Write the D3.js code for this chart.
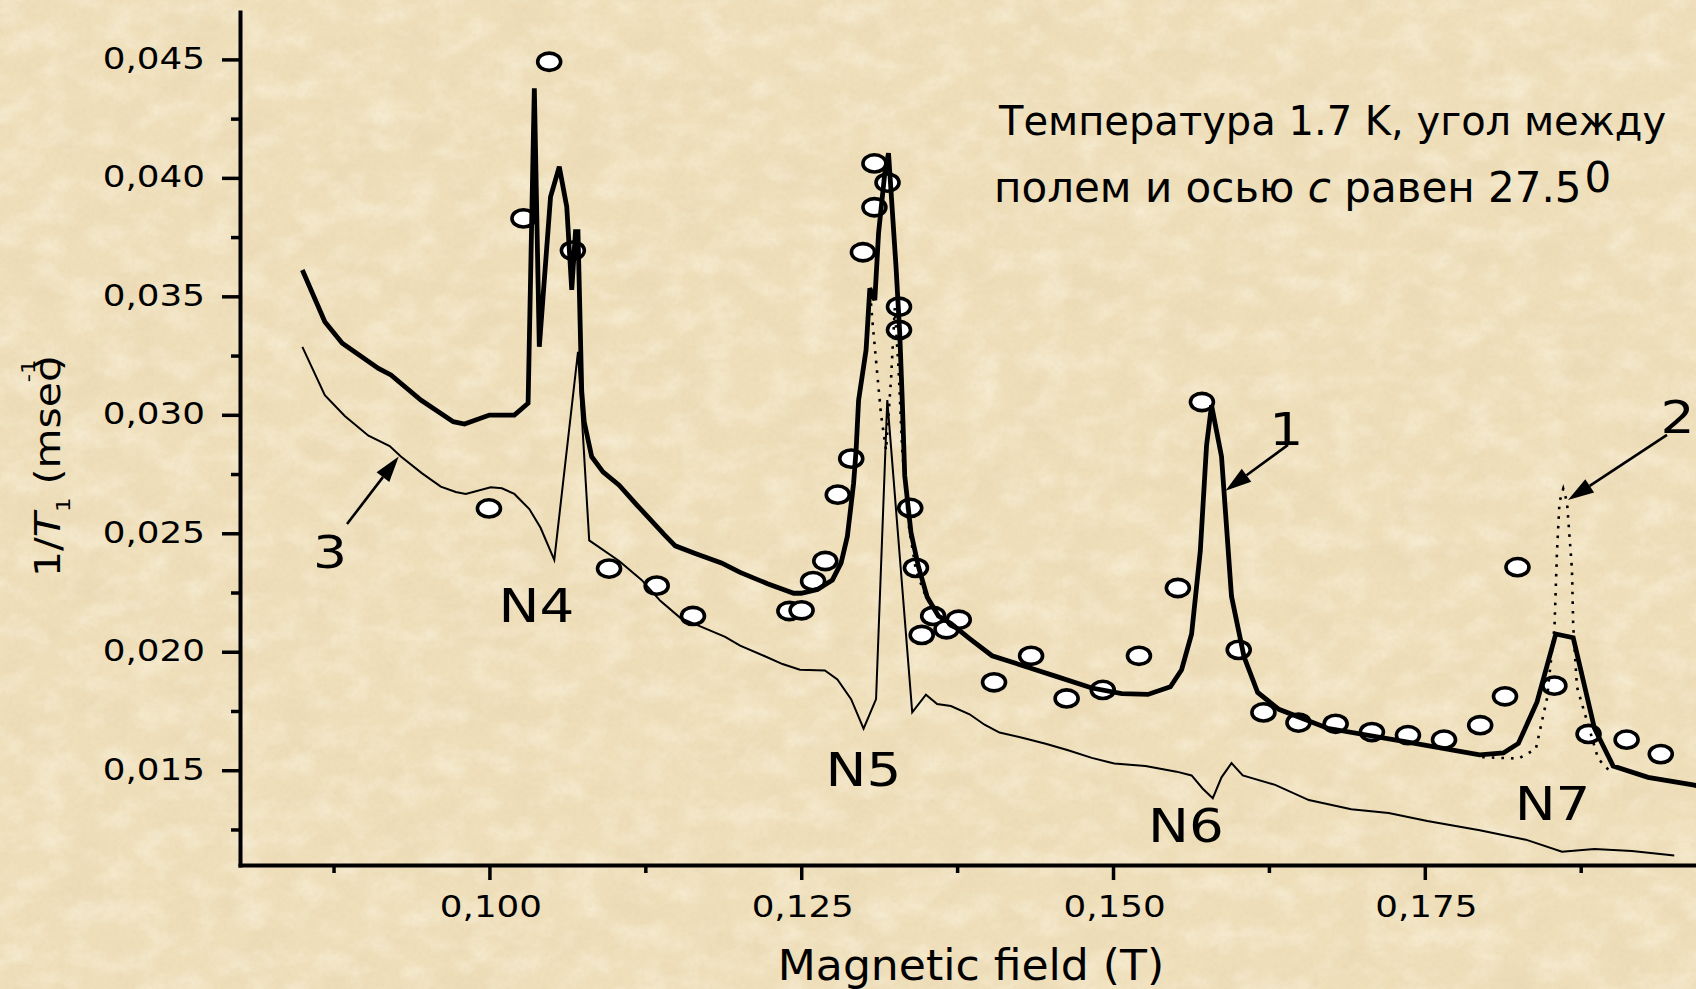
<!DOCTYPE html>
<html>
<head>
<meta charset="utf-8">
<script src="https://cdn.jsdelivr.net/npm/d3@7"></script>
<style>
  html, body { margin: 0; padding: 0; background: #EFDFBA; overflow: hidden; }
  svg { display: block; }
</style>
</head>
<body>
<svg id="chart" width="1696" height="989"></svg>
<script>
// ---- data: magnetic field (T) vs relaxation rate 1/T1 (msec^-1) ----

// curve 1: calculated, thick solid line
const curve1 = [
  [0.0850,0.03611],[0.0868,0.03393],[0.0882,0.03302],[0.0911,0.03196],[0.0921,0.03168],
  [0.0945,0.03062],[0.0971,0.02971],[0.0980,0.02961],[0.1000,0.02999],[0.1020,0.02999],
  [0.1031,0.03049],[0.1036,0.04378],[0.1040,0.03287],[0.1049,0.03920],[0.1056,0.04047],
  [0.1062,0.03878],[0.1066,0.03527],[0.1069,0.03773],[0.1071,0.03773],[0.1074,0.03100],
  [0.1076,0.02970],[0.1082,0.02823],[0.1091,0.02759],[0.1104,0.02703],[0.1119,0.02615],
  [0.1140,0.02495],[0.1149,0.02447],[0.1165,0.02415],[0.1186,0.02375],[0.1201,0.02335],
  [0.1223,0.02287],[0.1244,0.02247],[0.1250,0.02247],[0.1263,0.02263],[0.1275,0.02303],
  [0.1282,0.02375],[0.1287,0.02487],[0.1292,0.02711],[0.1294,0.02851],[0.1296,0.03062],
  [0.1302,0.03274],[0.1305,0.03534],[0.1309,0.03484],[0.1312,0.03766],[0.1317,0.04019],
  [0.1320,0.04104],[0.1326,0.03625],[0.1329,0.03344],[0.1331,0.03062],[0.1333,0.02743],
  [0.1338,0.02503],[0.1344,0.02359],[0.1351,0.02231],[0.1360,0.02151],[0.1370,0.02119],
  [0.1385,0.02055],[0.1403,0.01983],[0.1431,0.01936],[0.1455,0.01895],[0.1483,0.01847],
  [0.1507,0.01823],[0.1528,0.01820],[0.1546,0.01852],[0.1555,0.01924],[0.1563,0.02075],
  [0.1570,0.02426],[0.1575,0.02871],[0.1579,0.03040],[0.1587,0.02824],[0.1595,0.02234],
  [0.1605,0.01980],[0.1616,0.01828],[0.1633,0.01757],[0.1672,0.01677],[0.1734,0.01621],
  [0.1794,0.01565],[0.1813,0.01573],[0.1825,0.01613],[0.1840,0.01788],[0.1855,0.02075],
  [0.1869,0.02059],[0.1886,0.01677],[0.1901,0.01518],[0.1929,0.01470],[0.1965,0.01438],
  [0.1972,0.01430]
];

// curve 2: calculated, dotted line (drawn where it separates from curve 1)
const curve2N5 = [
  [0.1302,0.03274],[0.1305,0.03534],[0.1307,0.03400],[0.1314,0.03000],[0.1318,0.02850],
  [0.1322,0.03150],[0.1325,0.03450],[0.1328,0.03200],[0.1331,0.02850],[0.1336,0.02540],
  [0.1342,0.02343],[0.1350,0.02231],[0.1360,0.02151]
];
const curve2N7 = [
  [0.1796,0.01555],[0.1825,0.01549],[0.1839,0.01589],[0.1848,0.01804],[0.1854,0.02107],
  [0.1856,0.02426],[0.1858,0.02632],[0.1861,0.02688],[0.1864,0.02632],[0.1868,0.02346],
  [0.1869,0.02107],[0.1872,0.01852],[0.1880,0.01708],[0.1889,0.01549],[0.1900,0.01486]
];

// curve 3: thin solid line
const curve3 = [
  [0.0850,0.03287],[0.0868,0.03083],[0.0884,0.02995],[0.0903,0.02912],[0.0920,0.02868],
  [0.0929,0.02824],[0.0946,0.02753],[0.0961,0.02697],[0.0973,0.02674],[0.0981,0.02666],
  [0.1001,0.02694],[0.1010,0.02690],[0.1020,0.02666],[0.1032,0.02602],[0.1041,0.02523],
  [0.1052,0.02388],[0.1071,0.03266],[0.1080,0.02470],[0.1104,0.02383],[0.1122,0.02303],
  [0.1137,0.02215],[0.1153,0.02143],[0.1171,0.02103],[0.1189,0.02063],[0.1201,0.02026],
  [0.1220,0.01983],[0.1235,0.01948],[0.1249,0.01924],[0.1269,0.01921],[0.1279,0.01883],
  [0.1290,0.01800],[0.1300,0.01675],[0.1310,0.01800],[0.1319,0.03062],[0.1339,0.01744],
  [0.1350,0.01819],[0.1359,0.01779],[0.1370,0.01771],[0.1385,0.01736],[0.1397,0.01692],
  [0.1409,0.01659],[0.1428,0.01636],[0.1446,0.01612],[0.1464,0.01584],[0.1483,0.01552],
  [0.1501,0.01528],[0.1526,0.01518],[0.1551,0.01494],[0.1563,0.01478],[0.1572,0.01422],
  [0.1580,0.01382],[0.1587,0.01470],[0.1595,0.01530],[0.1604,0.01478],[0.1630,0.01438],
  [0.1657,0.01374],[0.1691,0.01335],[0.1721,0.01319],[0.1752,0.01286],[0.1794,0.01247],
  [0.1831,0.01207],[0.1860,0.01156],[0.1886,0.01167],[0.1916,0.01159],[0.1950,0.01140]
];

// measured points: open circles
const measured = [
  [0.10273,0.03829],[0.10479,0.04490],[0.10669,0.03693],[0.09996,0.02605],[0.10959,0.02351],
  [0.11341,0.02279],[0.11632,0.02151],[0.12405,0.02172],[0.12503,0.02175],[0.12595,0.02298],
  [0.12693,0.02383],[0.12793,0.02663],[0.12901,0.02815],[0.12995,0.03686],[0.13087,0.03876],
  [0.13087,0.04061],[0.13192,0.03980],[0.13284,0.03456],[0.13284,0.03358],[0.13374,0.02607],
  [0.13420,0.02354],[0.13466,0.02071],[0.13558,0.02151],[0.13665,0.02095],[0.13763,0.02135],
  [0.14046,0.01871],[0.14343,0.01983],[0.14628,0.01803],[0.14918,0.01839],[0.15208,0.01983],
  [0.15520,0.02269],[0.15713,0.03054],[0.16008,0.02008],[0.16206,0.01744],[0.16487,0.01701],
  [0.16785,0.01696],[0.17076,0.01661],[0.17365,0.01648],[0.17654,0.01629],[0.17944,0.01690],
  [0.18143,0.01812],[0.18243,0.02357],[0.18539,0.01857],[0.18813,0.01653],[0.19118,0.01629],
  [0.19392,0.01568]
];

// axis ticks
const xTicks = [0.100, 0.125, 0.150, 0.175];
const xMinorTicks = [0.0875, 0.1125, 0.1375, 0.1625, 0.1875];
const yTicks = [0.015, 0.020, 0.025, 0.030, 0.035, 0.040, 0.045];
const yMinorTicks = [0.0125, 0.0175, 0.0225, 0.0275, 0.0325, 0.0375, 0.0425];

// resonance labels
const peakNames = ["N4", "N5", "N6", "N7"];
const peakLabelX = [0.10377, 0.12999, 0.15584, 0.18524];
const peakLabelY = [0.02127, 0.01433, 0.01199, 0.01288];

// curve numbers with pointer arrows: label position, arrow start, arrow tip
const curveNames = ["1", "2", "3"];
const curveLabelX = [0.16389, 0.19526, 0.08722];
const curveLabelY = [0.02873, 0.02923, 0.02353];
const arrowFrom = [[0.16403, 0.02873], [0.19442, 0.02915], [0.08858, 0.02539]];
const arrowTo   = [[0.15902, 0.02680], [0.18648, 0.02640], [0.09273, 0.02824]];

// ---- drawing ----
const W = 1696, H = 989;
const svg = d3.select("#chart");
const FONT = "DejaVu Sans, Verdana, sans-serif";
const HS = 1.19;   // horizontal stretch of the graph lettering

// parchment background
svg.append("defs").html(`
  <filter id="mottle" filterUnits="userSpaceOnUse" x="0" y="0" width="${W}" height="${H}">
    <feTurbulence type="fractalNoise" baseFrequency="0.018 0.026" numOctaves="4" seed="4"/>
    <feColorMatrix type="matrix" values="0 0 0 0 0.80  0 0 0 0 0.67  0 0 0 0 0.44  1.5 0 0 0 -0.62"/>
  </filter>
  <filter id="light" filterUnits="userSpaceOnUse" x="0" y="0" width="${W}" height="${H}">
    <feTurbulence type="fractalNoise" baseFrequency="0.03 0.04" numOctaves="3" seed="11"/>
    <feColorMatrix type="matrix" values="0 0 0 0 1  0 0 0 0 0.97  0 0 0 0 0.86  1.6 0 0 0 -0.66"/>
  </filter>
  <filter id="grain" filterUnits="userSpaceOnUse" x="0" y="0" width="${W}" height="${H}">
    <feTurbulence type="fractalNoise" baseFrequency="0.22" numOctaves="2" seed="2"/>
    <feColorMatrix type="matrix" values="0 0 0 0 0.72  0 0 0 0 0.6  0 0 0 0 0.38  1.2 0 0 0 -0.5"/>
  </filter>
`);
svg.append("rect").attr("width", W).attr("height", H).attr("fill", "#EFDFBA");
svg.append("rect").attr("width", W).attr("height", H).attr("filter", "url(#mottle)").attr("opacity", 0.55);
svg.append("rect").attr("width", W).attr("height", H).attr("filter", "url(#light)").attr("opacity", 0.55);
svg.append("rect").attr("width", W).attr("height", H).attr("filter", "url(#grain)").attr("opacity", 0.3);

// scales
const x = d3.scaleLinear().domain([0.08, 0.2]).range([240, 1736.6]);
const y = d3.scaleLinear().domain([0.011, 0.047]).range([865, 12]);
const fmt = d => d3.format(".3f")(d).replace(".", ",");

// axes
const axisStyle = g => {
  g.select(".domain").attr("stroke", "#000").attr("stroke-width", 4).attr("stroke-linecap", "square");
  g.selectAll(".tick line").attr("stroke", "#000").attr("stroke-width", 3.5);
};

const gx = svg.append("g").attr("transform", `translate(0,${y.range()[0]})`)
  .call(d3.axisBottom(x).tickValues(xTicks).tickSize(15).tickSizeOuter(0).tickFormat(fmt));
axisStyle(gx);
gx.selectAll(".tick text")
  .attr("x", null).attr("y", null).attr("dy", null)
  .attr("transform", `translate(1,52) scale(${HS},1)`)
  .attr("text-anchor", "middle")
  .style("font-family", FONT).style("font-size", "30px").attr("fill", "#000");

svg.append("g").attr("transform", `translate(0,${y.range()[0]})`)
  .call(d3.axisBottom(x).tickValues(xMinorTicks).tickSize(8).tickSizeOuter(0).tickFormat(""))
  .call(g => { g.select(".domain").remove(); g.selectAll(".tick line").attr("stroke", "#000").attr("stroke-width", 3.5); });

const gy = svg.append("g").attr("transform", `translate(${x.range()[0]},0)`)
  .call(d3.axisLeft(y).tickValues(yTicks).tickSize(18).tickSizeOuter(0).tickFormat(fmt));
axisStyle(gy);
gy.selectAll(".tick text")
  .attr("x", null).attr("y", null).attr("dy", null)
  .attr("transform", `translate(-35,9) scale(${HS},1)`)
  .attr("text-anchor", "end")
  .style("font-family", FONT).style("font-size", "30px").attr("fill", "#000");

svg.append("g").attr("transform", `translate(${x.range()[0]},0)`)
  .call(d3.axisLeft(y).tickValues(yMinorTicks).tickSize(9).tickSizeOuter(0).tickFormat(""))
  .call(g => { g.select(".domain").remove(); g.selectAll(".tick line").attr("stroke", "#000").attr("stroke-width", 3.5); });

// axis titles
svg.append("text")
  .attr("transform", `translate(971,980) scale(1.05,1)`)
  .attr("text-anchor", "middle")
  .style("font-family", FONT).style("font-size", "42px")
  .text("Magnetic field (T)");

const ylab = svg.append("text")
  .attr("transform", "translate(60,466) rotate(-90) scale(1.14,1)")
  .attr("text-anchor", "middle")
  .style("font-family", FONT).style("font-size", "36px");
ylab.append("tspan").text("1/");
ylab.append("tspan").style("font-style", "italic").text("T");
ylab.append("tspan").style("font-size", "20px").attr("dy", 10).text("1");
ylab.append("tspan").attr("dy", -10).text(" (msec");
ylab.append("tspan").style("font-size", "20px").attr("dy", -25).attr("dx", -20).text("-1");
ylab.append("tspan").attr("dy", 25).attr("dx", -10).text(")");

// measured points (drawn beneath the curves)
svg.append("g").selectAll("ellipse").data(measured).join("ellipse")
  .attr("cx", d => x(d[0])).attr("cy", d => y(d[1]))
  .attr("rx", 11.5).attr("ry", 8.6)
  .attr("fill", "#fff").attr("stroke", "#000").attr("stroke-width", 3.6);

// curves
const line = d3.line().x(d => x(d[0])).y(d => y(d[1]));
svg.append("path").datum(curve3).attr("d", line)
  .attr("fill", "none").attr("stroke", "#000").attr("stroke-width", 2);
[curve2N5, curve2N7].forEach(seg => {
  svg.append("path").datum(seg).attr("d", line)
    .attr("fill", "none").attr("stroke", "#000").attr("stroke-width", 2.6)
    .attr("stroke-dasharray", "2.6 7");
});
svg.append("path").datum(curve1).attr("d", line)
  .attr("fill", "none").attr("stroke", "#000").attr("stroke-width", 4.8)
  .attr("stroke-linejoin", "miter").attr("stroke-miterlimit", 3);

// resonance labels
svg.append("g").selectAll("text").data(peakNames).join("text")
  .attr("transform", (d, i) => `translate(${x(peakLabelX[i])},${y(peakLabelY[i])}) scale(${HS},1)`)
  .attr("text-anchor", "middle")
  .style("font-family", FONT).style("font-size", "46px")
  .text(d => d);

// curve numbers and arrows
svg.append("g").selectAll("text").data(curveNames).join("text")
  .attr("transform", (d, i) => `translate(${x(curveLabelX[i])},${y(curveLabelY[i])}) scale(${HS},1)`)
  .attr("text-anchor", "middle")
  .style("font-family", FONT).style("font-size", "45px")
  .text(d => d);

const arrows = svg.append("g");
arrowFrom.forEach((f, i) => {
  const x0 = x(f[0]), y0 = y(f[1]);
  const x1 = x(arrowTo[i][0]), y1 = y(arrowTo[i][1]);
  const a = Math.atan2(y1 - y0, x1 - x0);
  const L = 26, hw = 8;
  const bx = x1 - L * Math.cos(a), by = y1 - L * Math.sin(a);
  arrows.append("line")
    .attr("x1", x0).attr("y1", y0).attr("x2", bx).attr("y2", by)
    .attr("stroke", "#000").attr("stroke-width", 2.6);
  const pts = [
    [x1, y1],
    [bx + hw * Math.sin(a), by - hw * Math.cos(a)],
    [bx - hw * Math.sin(a), by + hw * Math.cos(a)]
  ];
  arrows.append("path").attr("d", "M" + pts.map(p => p.join(",")).join("L") + "Z").attr("fill", "#000");
});

// experiment conditions note
svg.append("text")
  .attr("x", 999).attr("y", 135)
  .style("font-family", FONT).style("font-size", "40px").attr("fill", "#000")
  .text("Температура 1.7 K, угол между");
const note2 = svg.append("text")
  .attr("x", 994).attr("y", 202)
  .style("font-family", FONT).style("font-size", "42px").attr("fill", "#000");
note2.append("tspan").text("полем и осью ");
note2.append("tspan").style("font-style", "italic").text("c");
note2.append("tspan").text(" равен 27.5");
note2.append("tspan").attr("dy", -10).attr("dx", 3).text("0");
</script>
</body>
</html>
